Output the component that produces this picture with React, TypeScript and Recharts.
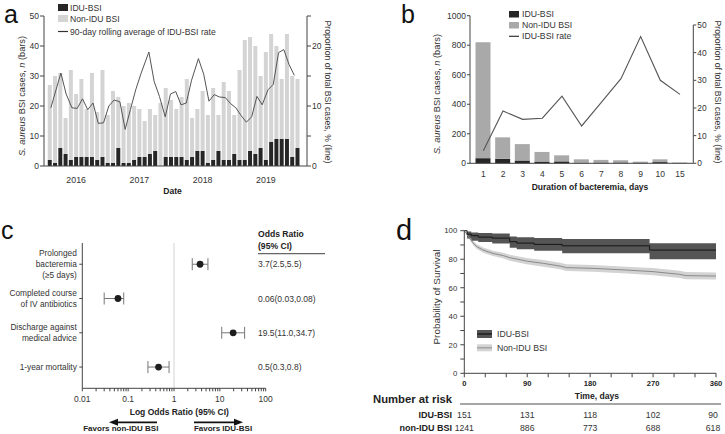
import React from "react";
import {
  ComposedChart,
  ScatterChart,
  Bar,
  Line,
  Area,
  Scatter,
  ErrorBar,
  XAxis,
  YAxis,
  ReferenceLine,
} from "recharts";

const FONT = '"Liberation Sans", Arial, Helvetica, sans-serif';
const AXIS = "#444";
const TXT = "#333";

// ---------- panel a: monthly S. aureus BSI cases, 2016-2019
const A_TOTAL = [27, 30, 31, 16, 32, 24, 29, 19, 31, 18, 32, 17, 25, 23, 20, 21, 20, 19, 15, 19, 17, 21, 26, 22, 19, 23, 29, 16, 19, 25, 17, 26, 17, 28, 25, 17, 32, 42, 43, 40, 30, 38, 44, 40, 29, 44, 30, 29];
const A_IDU = [2, 1, 6, 4, 2, 3, 3, 3, 3, 2, 3, 1, 1, 6, 1, 1, 2, 3, 3, 4, 5, 0, 3, 3, 3, 3, 2, 3, 5, 5, 1, 2, 5, 2, 2, 4, 2, 2, 5, 4, 6, 2, 8, 9, 9, 9, 3, 6];
// rolling-average line, positions in months from the first bar
const A_RATE_X = [0.2, 2.1, 3.1, 4.2, 5.2, 6.2, 7.2, 8.2, 9.2, 10.2, 11.2, 12.2, 13.3, 14.3, 15.3, 16.3, 17.3, 18.8, 19.8, 20.8, 21.9, 22.9, 23.9, 24.9, 25.9, 26.9, 28.2, 29.2, 30.2, 31.2, 32.2, 33.3, 34.3, 35.3, 36.3, 37.3, 38.3, 39.3, 40.3, 41.4, 42.4, 43.4, 44.4, 45.4, 46.4];
const A_RATE = [9.7, 15.5, 12.0, 9.7, 9.6, 11.2, 9.4, 10.5, 7.1, 7.2, 10.0, 11.0, 10.7, 6.1, 9.4, 12.7, 15.4, 19.0, 14.1, 11.6, 8.2, 12.0, 12.4, 10.2, 10.5, 14.3, 17.9, 15.3, 10.8, 11.9, 11.5, 11.4, 10.4, 9.7, 8.4, 7.3, 8.2, 11.6, 10.2, 12.7, 13.6, 18.9, 19.4, 16.9, 15.1];
const A_TICKS = [3, 7, 11, 15, 19, 23, 27, 31, 35, 39, 43, 47];
const A_YEAR_AT = [5, 17, 29, 41];
const A_YEARS = ["2016", "2017", "2018", "2019"];

const aBars = A_TOTAL.map((t, i) => ({ m: i, idu: A_IDU[i], non: t - A_IDU[i] }));
const aLine = A_RATE_X.map((m, i) => ({ m, rate: A_RATE[i] }));

// ---------- panel b: duration of bacteremia
const B_DAYS = ["1", "2", "3", "4", "5", "6", "7", "8", "9", "10", "15"];
const B_TOTAL = [820, 176, 130, 77, 54, 27, 23, 20, 11, 27, 5];
const B_IDU = [35, 30, 19, 12, 13, 4, 5, 6, 5, 8, 1];
const B_RATE = [4.5, 18.9, 15.9, 16.3, 24.3, 13.5, 22.0, 30.6, 45.8, 30.0, 24.9];
const bRows = B_DAYS.map((d, i) => ({ d, idu: B_IDU[i], non: B_TOTAL[i] - B_IDU[i], rate: B_RATE[i] }));
const B_PLOT_H = 147.6;
const B_RMAX = 53.36;

// ---------- panel c: odds ratios
const C_LABELS = [
  ["Prolonged", "bacteremia", "(\u22655 days)"],
  ["Completed course", "of IV antibiotics"],
  ["Discharge against", "medical advice"],
  ["1-year mortality"],
];
const C_ROW = [4, 3, 2, 1];
const C_OR = [3.7, 0.06, 19.5, 0.46];
const C_LO = [2.5, 0.03, 11.0, 0.27];
const C_HI = [5.5, 0.08, 34.7, 0.78];
const C_TEXT = ["3.7(2.5,5.5)", "0.06(0.03,0.08)", "19.5(11.0,34.7)", "0.5(0.3,0.8)"];
const C_XTICKS = [0.01, 0.02, 0.03, 0.04, 0.05, 0.06, 0.07, 0.08, 0.09, 0.1, 0.2, 0.3, 0.4, 0.5, 0.6, 0.7, 0.8, 0.9, 1, 2, 3, 4, 5, 6, 7, 8, 9, 10, 20, 30, 40, 50, 60, 70, 80, 90, 100];
const C_DECADES = [0.01, 0.1, 1, 10, 100];
const cRows = C_OR.map((or, i) => ({ or, row: C_ROW[i], err: [or - C_LO[i], C_HI[i] - or] }));

// ---------- panel d: Kaplan-Meier survival
const D_IDU_T = [0, 4, 10, 20, 40, 65, 75, 100, 140, 265, 360];
const D_IDU_S = [100, 97.5, 96.5, 95.5, 94.8, 92.3, 91.3, 90.4, 89.4, 86.4, 86.4];
const D_IDU_LO = [100, 94.5, 93, 92, 91, 88, 87, 86, 84.2, 80, 80];
const D_IDU_HI = [100, 99.5, 98.8, 98.4, 98, 96, 95.4, 94.8, 94.2, 91.2, 91.2];
const D_NON_T = [0, 3, 8, 13, 18, 27, 41, 56, 65, 89, 113, 137, 146, 184, 232, 270, 308, 317, 360];
const D_NON_S = [100, 98, 94.6, 91.1, 88.8, 86.4, 84.1, 82.5, 81.1, 78.7, 77.1, 75.2, 74.1, 73.6, 72.4, 71.3, 69.4, 68.5, 68.2];
const D_NON_LO = [100, 97, 93.3, 89.6, 87.1, 84.6, 82.2, 80.5, 79, 76.5, 74.8, 72.9, 71.7, 71.2, 70, 68.8, 66.9, 66, 65.7];
const D_NON_HI = [100, 98.8, 95.9, 92.6, 90.5, 88.2, 86, 84.5, 83.2, 80.9, 79.4, 77.5, 76.5, 76, 74.8, 73.8, 71.9, 71, 70.7];
const D_RISK_DAYS = [0, 90, 180, 270, 360];
const D_RISK_IDU = [151, 131, 118, 102, 90];
const D_RISK_NON = [1241, 886, 773, 688, 618];

const dIdu = D_IDU_T.map((t, i) => ({ t, s: D_IDU_S[i], band: [D_IDU_LO[i], D_IDU_HI[i]] }));
const dNon = D_NON_T.map((t, i) => ({ t, s: D_NON_S[i], band: [D_NON_LO[i], D_NON_HI[i]] }));

const tickStyle = { fontSize: 8.5, fill: TXT };

// numeric month axis gives recharts a tiny band, so centre a fixed-width bar on it
const aBarShape = (p: any) =>
  p.height > 0 ? <rect x={p.x + p.width / 2 - 2} y={p.y} width={4} height={p.height} fill={p.fill} /> : <g />;

function BRightTick(props: any) {
  const { x, y, payload } = props;
  const step = (B_PLOT_H / B_RMAX) * 10;
  const ax = x - 4;
  return (
    <g>
      {payload.value < 50 && <line x1={ax} x2={ax} y1={y} y2={y - step} stroke={AXIS} />}
      <text x={x} y={y} dy="0.35em" fontSize={8.4} fill={TXT}>
        {payload.value}
      </text>
    </g>
  );
}

function CRowTick(props: any) {
  const { x, y, payload } = props;
  const lines = C_LABELS[C_ROW.indexOf(payload.value)] || [];
  const lh = 11.2;
  const y0 = y - ((lines.length - 1) * lh) / 2;
  return (
    <text x={x} y={y0} textAnchor="end" fontSize={8.3} fill={TXT}>
      {lines.map((l, i) => (
        <tspan key={i} x={x} y={y0 + i * lh} dy="0.35em">
          {l}
        </tspan>
      ))}
    </text>
  );
}

const cDot = (p: any) => <circle cx={p.cx} cy={p.cy} r={3.4} fill="#1e1e1e" />;

function Overlay() {
  const cRowY = (r: number) => 243 + ((4.62 - r) * 145.3) / 4.24;
  const dDayX = (d: number) => 464.3 + (d * 251.7) / 360;
  return (
    <svg width={725} height={434} style={{ position: "absolute", left: 0, top: 0, pointerEvents: "none" }} fontFamily={FONT}>
      {/* panel letters */}
      <text x={4} y={22.8} fontSize={25} fill="#111">a</text>
      <text x={401} y={22.8} fontSize={25} fill="#111">b</text>
      <text x={1} y={239} fontSize={25} fill="#111">c</text>
      <text x={396} y={240} fontSize={29} fill="#111">d</text>

      {/* a legend + titles */}
      <rect x={58} y={4} width={10} height={7} fill="#262626" />
      <rect x={58} y={15} width={10} height={7} fill="#d4d4d4" />
      <line x1={58} x2={68} y1={31.5} y2={31.5} stroke="#333" strokeWidth={1.2} />
      <g fontSize={8.6} fill={TXT} dominantBaseline="central">
        <text x={70} y={7.5}>IDU-BSI</text>
        <text x={70} y={18.5}>Non-IDU BSI</text>
        <text x={70} y={31.5}>90-day rolling average of IDU-BSI rate</text>
      </g>
      <text transform="translate(22,96) rotate(-90)" textAnchor="middle" dominantBaseline="central" fontSize={9.2} fill={TXT}>
        <tspan fontStyle="italic">S. aureus</tspan> BSI cases, <tspan fontStyle="italic">n</tspan> (bars)
      </text>
      <text transform="translate(328,92) rotate(90)" textAnchor="middle" dominantBaseline="central" fontSize={8.6} fill={TXT}>
        Proportion of total BSI cases, % (line)
      </text>
      <text x={172.5} y={191} textAnchor="middle" dominantBaseline="central" fontSize={8.6} fontWeight={700} fill="#222">Date</text>

      {/* b legend + titles */}
      <rect x={509} y={11} width={10} height={6.5} fill="#262626" />
      <rect x={509} y={22} width={10} height={6.5} fill="#a9a9a9" />
      <line x1={509} x2={519} y1={36.3} y2={36.3} stroke="#333" strokeWidth={1.2} />
      <g fontSize={8.7} fill={TXT} dominantBaseline="central">
        <text x={522} y={14.2}>IDU-BSI</text>
        <text x={522} y={25.3}>Non-IDU BSI</text>
        <text x={522} y={36.3}>IDU-BSI rate</text>
      </g>
      <text transform="translate(437,94) rotate(-90)" textAnchor="middle" dominantBaseline="central" fontSize={9.2} fill={TXT}>
        <tspan fontStyle="italic">S. aureus</tspan> BSI cases, <tspan fontStyle="italic">n</tspan> (bars)
      </text>
      <text transform="translate(718,92) rotate(90)" textAnchor="middle" dominantBaseline="central" fontSize={8.6} fill={TXT}>
        Proportion of total BSI cases, % (line)
      </text>
      <text x={590} y={187} textAnchor="middle" dominantBaseline="central" fontSize={8.5} fontWeight={700} fill="#222">
        Duration of bacteremia, days
      </text>

      {/* c table, title, arrows */}
      <g fontSize={8.6} fontWeight={700} fill="#222" dominantBaseline="central">
        <text x={258} y={234.3}>Odds Ratio</text>
        <text x={258} y={245.7}>(95% CI)</text>
      </g>
      <line x1={258} x2={325} y1={253.7} y2={253.7} stroke="#666" strokeWidth={1.3} />
      <g fontSize={8.5} fill={TXT} dominantBaseline="central">
        {C_TEXT.map((t, i) => (
          <text key={t} x={258} y={cRowY(C_ROW[i])}>{t}</text>
        ))}
      </g>
      <text x={179.3} y={411.7} textAnchor="middle" dominantBaseline="central" fontSize={8.5} fontWeight={700} fill="#222">
        Log Odds Ratio (95% CI)
      </text>
      <line x1={157} x2={117} y1={422.3} y2={422.3} stroke="#111" strokeWidth={1.8} />
      <polygon points="109,422.3 118,418.8 118,425.8" fill="#111" />
      <line x1={194} x2={234} y1={422.3} y2={422.3} stroke="#111" strokeWidth={1.8} />
      <polygon points="243,422.3 234,418.8 234,425.8" fill="#111" />
      <g fontSize={8} fontWeight={700} fill="#222" dominantBaseline="central" textAnchor="middle">
        <text x={120.8} y={428.5}>Favors non-IDU BSI</text>
        <text x={223} y={428.5}>Favors IDU-BSI</text>
      </g>

      {/* d legend, titles, at-risk table */}
      <rect x={477} y={330} width={15} height={8} fill="#555" />
      <line x1={477} x2={492} y1={334} y2={334} stroke="#111" strokeWidth={1.2} />
      <rect x={477} y={344.3} width={15} height={7} fill="#d3d3d3" />
      <line x1={477} x2={492} y1={347.8} y2={347.8} stroke="#999" strokeWidth={1.2} />
      <g fontSize={8.7} fill={TXT} dominantBaseline="central">
        <text x={497} y={334.3}>IDU-BSI</text>
        <text x={497} y={348}>Non-IDU BSI</text>
      </g>
      <text transform="translate(436,297) rotate(-90)" textAnchor="middle" dominantBaseline="central" fontSize={9.9} fill={TXT}>
        Probability of Survival
      </text>
      <text x={597} y={396} textAnchor="middle" dominantBaseline="central" fontSize={8.6} fontWeight={700} fill="#222">Time, days</text>
      <text x={373} y={399} dominantBaseline="central" fontSize={11.3} fontWeight={700} fill="#222">Number at risk</text>
      <line x1={460} x2={721} y1={404} y2={404} stroke="#888" strokeWidth={1.5} />
      <g fontSize={9} fontWeight={700} fill="#222" dominantBaseline="central" textAnchor="end">
        <text x={452} y={415}>IDU-BSI</text>
        <text x={452} y={427.7}>non-IDU BSI</text>
      </g>
      <g fontSize={8.7} fill={TXT} dominantBaseline="central" textAnchor="middle">
        {D_RISK_DAYS.map((d, i) => (
          <text key={"i" + d} x={dDayX(d) - (d === 360 ? 3 : 0)} y={415}>{D_RISK_IDU[i]}</text>
        ))}
        {D_RISK_DAYS.map((d, i) => (
          <text key={"n" + d} x={dDayX(d) - (d === 360 ? 3 : 0)} y={427.7}>{D_RISK_NON[i]}</text>
        ))}
      </g>
    </svg>
  );
}

export default function App() {
  return (
    <div style={{ position: "absolute", left: 0, top: 0, width: 725, height: 434, background: "#fff", fontFamily: FONT, overflow: "hidden" }}>
      {/* a */}
      <div style={{ position: "absolute", left: 0, top: 0 }}>
        <ComposedChart width={360} height={215} data={aBars} margin={{ top: 16, right: 0, bottom: 0, left: 0 }}>
          <XAxis xAxisId="m" type="number" dataKey="m" domain={[-1.1, 48.8]} ticks={A_TICKS} tick={false} tickSize={4} height={4} stroke={AXIS} />
          <XAxis
            xAxisId="yr"
            type="number"
            dataKey="m"
            domain={[-1.1, 48.8]}
            ticks={A_YEAR_AT}
            tickFormatter={(v: number) => A_YEARS[A_YEAR_AT.indexOf(v)] ?? ""}
            axisLine={false}
            tickLine={false}
            tickSize={0}
            tickMargin={7}
            height={45}
            tick={{ fontSize: 8.8, fill: TXT }}
          />
          <YAxis yAxisId="l" domain={[0, 50]} ticks={[0, 10, 20, 30, 40, 50]} width={44} tickSize={4} tickMargin={1} stroke={AXIS} tick={tickStyle} />
          <YAxis
            yAxisId="r"
            orientation="right"
            domain={[0, 25]}
            ticks={[0, 5, 10, 15, 20, 25]}
            tickFormatter={(v: number) => (v % 10 === 0 ? String(v) : "")}
            width={53}
            tickSize={4}
            tickMargin={1}
            stroke={AXIS}
            tick={tickStyle}
          />
          <Bar xAxisId="m" yAxisId="l" dataKey="idu" stackId="s" fill="#262626" barSize={4} shape={aBarShape} isAnimationActive={false} />
          <Bar xAxisId="m" yAxisId="l" dataKey="non" stackId="s" fill="#d4d4d4" barSize={4} shape={aBarShape} isAnimationActive={false} />
          <Line xAxisId="m" yAxisId="r" data={aLine} dataKey="rate" type="linear" stroke="#555" strokeWidth={1} dot={false} isAnimationActive={false} />
        </ComposedChart>
      </div>

      {/* b */}
      <div style={{ position: "absolute", left: 360, top: 0 }}>
        <ComposedChart width={365} height={215} data={bRows} margin={{ top: 15.7, right: 0, bottom: 0, left: 0 }}>
          <XAxis dataKey="d" padding={{ left: 3.5, right: 3.5 }} height={51.7} tickLine={false} tickSize={0} tickMargin={8} stroke={AXIS} tick={tickStyle} interval={0} />
          <YAxis yAxisId="l" domain={[0, 1000]} ticks={[0, 200, 400, 600, 800, 1000]} width={110} tickSize={3} tickMargin={1} stroke={AXIS} tick={tickStyle} />
          <YAxis yAxisId="r" orientation="right" domain={[0, B_RMAX]} ticks={[0, 10, 20, 30, 40, 50]} width={31.7} tickSize={3} tickMargin={1} axisLine={false} stroke={AXIS} tick={<BRightTick />} />
          <Bar yAxisId="l" dataKey="idu" stackId="s" fill="#262626" barSize={15} isAnimationActive={false} />
          <Bar yAxisId="l" dataKey="non" stackId="s" fill="#a9a9a9" barSize={15} isAnimationActive={false} />
          <Line yAxisId="r" dataKey="rate" type="linear" stroke="#555" strokeWidth={1.1} dot={false} isAnimationActive={false} />
        </ComposedChart>
      </div>

      {/* c */}
      <div style={{ position: "absolute", left: 0, top: 215 }}>
        <ScatterChart width={360} height={219} margin={{ top: 28, right: 94.3, bottom: 25.7, left: 0 }}>
          <XAxis
            type="number"
            dataKey="or"
            scale="log"
            domain={[0.01, 100]}
            allowDataOverflow
            ticks={C_XTICKS}
            interval={0}
            tickFormatter={(v: number) => (C_DECADES.includes(v) ? String(v) : "")}
            height={20}
            tickSize={3}
            tickMargin={5}
            stroke={AXIS}
            tick={{ fontSize: 8.5, fill: TXT }}
          />
          <YAxis type="number" dataKey="row" domain={[0.38, 4.62]} ticks={[1, 2, 3, 4]} width={82.3} tickSize={3} tickMargin={2.5} stroke={AXIS} tick={<CRowTick />} />
          <ReferenceLine x={1} stroke="#d4d4d4" />
          <Scatter data={cRows} shape={cDot} isAnimationActive={false}>
            <ErrorBar dataKey="err" direction="x" width={6} stroke="#777" strokeWidth={1} />
          </Scatter>
        </ScatterChart>
      </div>

      {/* d */}
      <div style={{ position: "absolute", left: 360, top: 215 }}>
        <ComposedChart width={365} height={219} margin={{ top: 15.7, right: 9, bottom: 40.7, left: 0 }}>
          <XAxis
            type="number"
            dataKey="t"
            domain={[0, 360]}
            ticks={[0, 30, 60, 90, 120, 150, 180, 210, 240, 270, 300, 330, 360]}
            interval={0}
            tickFormatter={(v: number) => (v % 90 === 0 ? String(v) : "")}
            height={20}
            tickSize={4}
            tickMargin={3}
            stroke={AXIS}
            tick={{ fontSize: 7.6, fontWeight: 700, fill: "#222" }}
          />
          <YAxis
            domain={[0, 100]}
            ticks={[0, 10, 20, 30, 40, 50, 60, 70, 80, 90, 100]}
            interval={0}
            tickFormatter={(v: number) => (v % 20 === 0 ? String(v) : "")}
            width={104.3}
            tickSize={4}
            tickMargin={3}
            stroke={AXIS}
            tick={{ fontSize: 7.8, fill: TXT }}
          />
          <Area data={dNon} dataKey="band" type="linear" stroke="none" fill="#d3d3d3" fillOpacity={1} isAnimationActive={false} />
          <Area data={dIdu} dataKey="band" type="stepAfter" stroke="none" fill="#555" fillOpacity={1} isAnimationActive={false} />
          <Line data={dNon} dataKey="s" type="linear" stroke="#8a8a8a" strokeWidth={1} dot={false} isAnimationActive={false} />
          <Line data={dIdu} dataKey="s" type="stepAfter" stroke="#151515" strokeWidth={1} dot={false} isAnimationActive={false} />
        </ComposedChart>
      </div>

      <Overlay />
    </div>
  );
}
